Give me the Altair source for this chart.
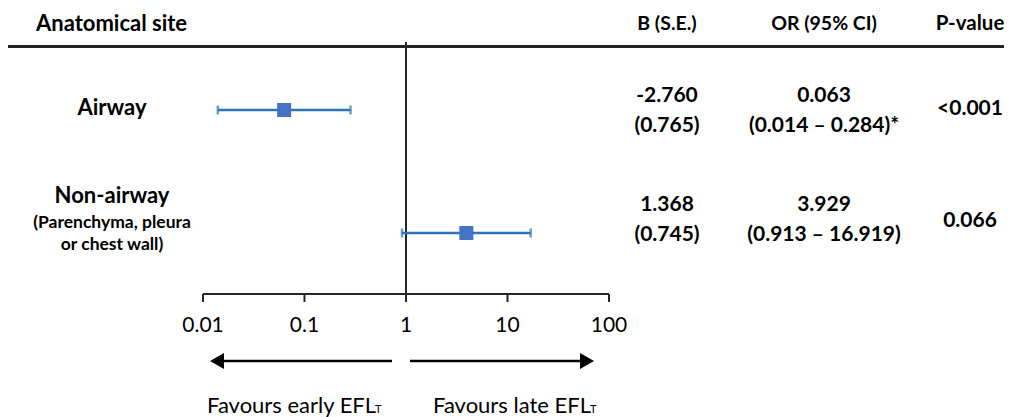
import altair as alt
import pandas as pd

# ---- data ----
sites = ["Airway", "Non-airway"]
site_note = ["(Parenchyma, pleura", "or chest wall)"]
or_vals = [0.063, 3.929]
ci_low = [0.014, 0.913]
ci_high = [0.284, 16.919]
b_text = ["-2.760", "1.368"]
se_text = ["(0.765)", "(0.745)"]
or_text = ["0.063", "3.929"]
ci_text = ["(0.014 \u2013 0.284)*", "(0.913 \u2013 16.919)"]
p_text = ["<0.001", "0.066"]
tick_vals = [0.01, 0.1, 1, 10, 100]
tick_labels = ["0.01", "0.1", "1", "10", "100"]
headers = ["Anatomical site", "B (S.E.)", "OR (95% CI)", "P-value"]
favours = ["Favours early EFL", "Favours late EFL"]

FONT = "Lato"
W, H = 996, 409
xscale = alt.Scale(type="log", domain=[0.01, 100], range=[195, 601])
yscale = alt.Scale(domain=[0, 1], range=[102, 225])

df = pd.DataFrame({"row": [0, 1], "or": or_vals, "lo": ci_low, "hi": ci_high})
X = alt.X("or:Q", scale=xscale, axis=None)
Y = alt.Y("row:Q", scale=yscale, axis=None)

layers = []

def txt(s, x, y, size=21, weight="bold", align="center", color="#000", lh=22):
    d = pd.DataFrame({"t": [s]})
    return alt.Chart(d).mark_text(
        font=FONT, fontSize=size, fontWeight=weight, align=align,
        baseline="middle", color=color, lineHeight=lh
    ).encode(text="t:N", x=alt.value(x), y=alt.value(y))

# header
layers.append(txt(headers[0], 28, 16, size=22, align="left"))
layers.append(txt(headers[1], 659, 16, size=19.5))
layers.append(txt(headers[2], 816, 16, size=19.5))
layers.append(txt(headers[3], 962, 16, size=20.5))
layers.append(alt.Chart(pd.DataFrame({"a": [0]})).mark_rule(color="#222", strokeWidth=3).encode(
    x=alt.value(0), x2=alt.value(W), y=alt.value(38.5)))

# vertical line at OR = 1
layers.append(alt.Chart(pd.DataFrame({"v": [1]})).mark_rule(color="#262626", strokeWidth=2).encode(
    x=alt.X("v:Q", scale=xscale, axis=None), y=alt.value(34), y2=alt.value(286)))

# axis line + ticks + labels
tk = pd.DataFrame({"v": tick_vals, "lab": tick_labels})
layers.append(alt.Chart(pd.DataFrame({"a": [0.01], "b": [100]})).mark_rule(color="#262626", strokeWidth=2).encode(
    x=alt.X("a:Q", scale=xscale, axis=None), x2="b:Q", y=alt.value(286)))
layers.append(alt.Chart(tk).mark_rule(color="#262626", strokeWidth=2).encode(
    x=alt.X("v:Q", scale=xscale, axis=None), y=alt.value(286), y2=alt.value(294)))
layers.append(alt.Chart(tk).mark_text(font=FONT, fontSize=21, color="#000", baseline="middle").encode(
    x=alt.X("v:Q", scale=xscale, axis=None), y=alt.value(318), text="lab:N"))

# error bars
blue_line = "#2E75B6"
layers.append(alt.Chart(df).mark_rule(color=blue_line, strokeWidth=2.5).encode(
    x=alt.X("lo:Q", scale=xscale, axis=None), x2="hi:Q", y=Y))
for f in ["lo", "hi"]:
    layers.append(alt.Chart(df).mark_tick(color=blue_line, thickness=2.5, size=9, orient="vertical").encode(
        x=alt.X(f + ":Q", scale=xscale, axis=None), y=Y))
layers.append(alt.Chart(df).mark_square(color="#4472C4", size=196, opacity=1).encode(x=X, y=Y))

# row labels
layers.append(txt(sites[0], 104, 100, size=22))
layers.append(txt(sites[1], 104, 188, size=22))
layers.append(txt(site_note[0], 104, 215, size=17.5))
layers.append(txt(site_note[1], 104, 237, size=17.5))
# numbers
row_y = [(87.5, 117.5, 101), (196.5, 227, 213)]
for i in range(2):
    ya, yb, yp = row_y[i]
    layers.append(txt(b_text[i], 659, ya))
    layers.append(txt(se_text[i], 659, yb))
    layers.append(txt(or_text[i], 816, ya))
    layers.append(txt(ci_text[i], 816, yb))
    layers.append(txt(p_text[i], 962, yp))

# arrows
layers.append(alt.Chart(pd.DataFrame({"a": [0]})).mark_rule(color="#000", strokeWidth=2.5).encode(
    x=alt.value(212), x2=alt.value(384), y=alt.value(353)))
layers.append(alt.Chart(pd.DataFrame({"a": [0]})).mark_rule(color="#000", strokeWidth=2.5).encode(
    x=alt.value(402), x2=alt.value(575), y=alt.value(353)))
layers.append(alt.Chart(pd.DataFrame({"a": [0]})).mark_point(shape="triangle-left", filled=True, size=260, color="#000", opacity=1).encode(
    x=alt.value(209), y=alt.value(353)))
layers.append(alt.Chart(pd.DataFrame({"a": [0]})).mark_point(shape="triangle-right", filled=True, size=260, color="#000", opacity=1).encode(
    x=alt.value(579), y=alt.value(353)))

# favours labels
layers.append(txt(favours[0], 199, 398, size=22, weight="normal", align="left"))
layers.append(txt("T", 367, 402, size=11, weight="normal", align="left"))
layers.append(txt(favours[1], 425, 398, size=22, weight="normal", align="left"))
layers.append(txt("T", 582, 402, size=11, weight="normal", align="left"))

chart = alt.layer(*layers).properties(
    width=W, height=H, autosize=alt.AutoSizeParams(type="none"), padding=0
).configure_view(stroke=None)

chart.save("out.html", embed_options={"renderer": "svg", "actions": False})
